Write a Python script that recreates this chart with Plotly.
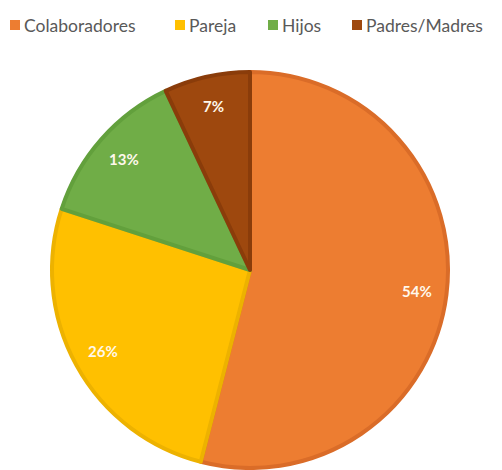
import math
import plotly.graph_objects as go

categories = ["Colaboradores", "Pareja", "Hijos", "Padres/Madres"]
values = [54, 26, 13, 7]
pct_labels = ["54%", "26%", "13%", "7%"]
colors = ["#ED7D31", "#FFC000", "#70AD47", "#9E480E"]
edge_colors = ["#DA6C28", "#EDB200", "#62A03C", "#8A3C0A"]

# figure is placed at an 8px page offset; size chosen to fit the window
W, H = 494, 462
cx, cy, r = 242, 262, 198          # pie centre/radius in figure pixels
LABEL_R = 0.85

fig = go.Figure(go.Pie(
    labels=categories,
    values=values,
    sort=False,
    direction="clockwise",
    rotation=0,
    marker=dict(colors=colors, line=dict(color=edge_colors, width=4)),
    textinfo="none",
    domain=dict(x=[(cx - r) / W, (cx + r) / W], y=[1 - (cy + r) / H, 1 - (cy - r) / H]),
    hoverinfo="label+percent",
    showlegend=False,
))

# percentage labels placed along each slice's mid-angle (computed from values)
total = sum(values)
cum = 0
annotations = []
for v, lab in zip(values, pct_labels):
    mid = (cum + v / 2) / total * 2 * math.pi
    cum += v
    px = cx + LABEL_R * r * math.sin(mid)
    py = cy - LABEL_R * r * math.cos(mid)
    annotations.append(dict(
        x=px / W, y=1 - py / H, xref="paper", yref="paper",
        text=f"<b>{lab}</b>", showarrow=False,
        font=dict(family="Lato", size=15, color="#FFF8EC"),
        xanchor="center", yanchor="middle",
    ))

# legend drawn as squares + text along the top
legend_x = [2, 167, 260, 344]   # square left edges (figure px)
shapes = []
for lx, col, name in zip(legend_x, colors, categories):
    shapes.append(dict(type="rect", xref="paper", yref="paper",
                       x0=lx / W, x1=(lx + 10) / W, y0=1 - 22 / H, y1=1 - 12 / H,
                       fillcolor=col, line=dict(width=0)))
    annotations.append(dict(
        x=(lx + 12) / W, y=1 - 17 / H, xref="paper", yref="paper",
        text=name, showarrow=False, xanchor="left", yanchor="middle",
        font=dict(family="Lato", size=17.5, color="#595959"),
    ))

fig.update_layout(
    width=W, height=H,
    margin=dict(l=0, r=0, t=0, b=0),
    paper_bgcolor="white",
    annotations=annotations,
    shapes=shapes,
)

fig.write_html("out.html")
